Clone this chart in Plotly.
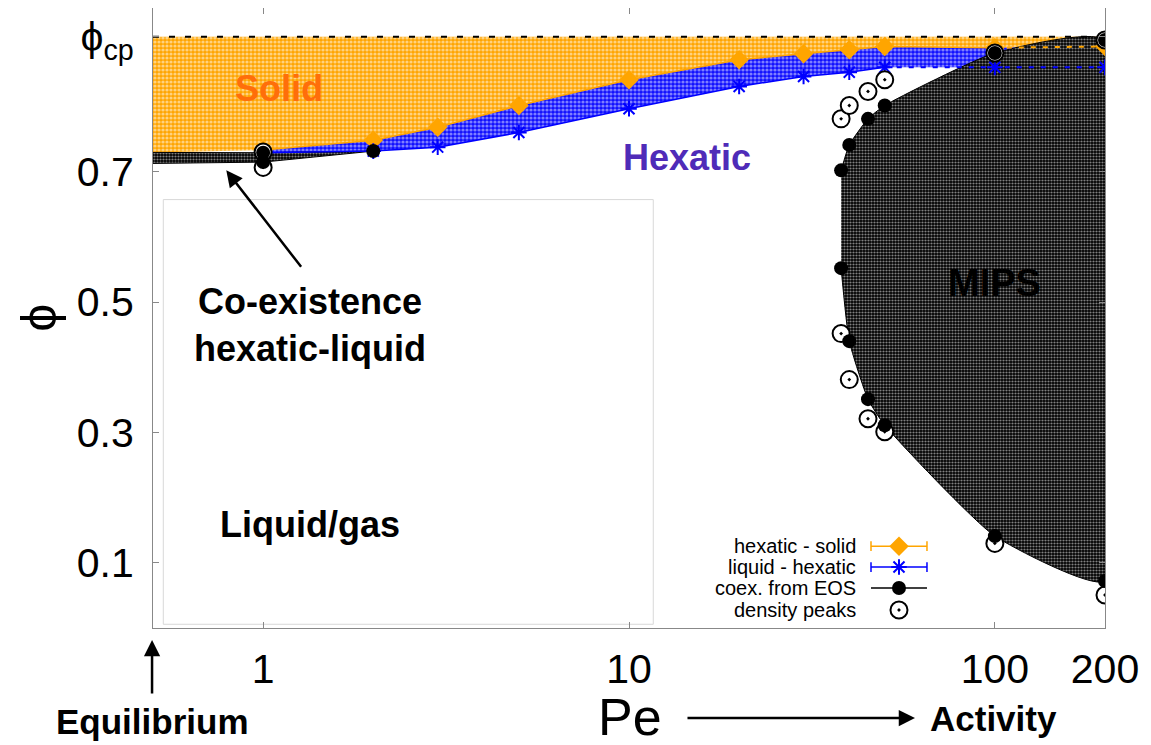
import math
import plotly.graph_objects as go

FONT = "Liberation Sans, Arial, Helvetica, sans-serif"

# ---------------- data ----------------
PHI_CP = 0.907          # close packing fraction
PE_EQ = 0.5             # left edge of the axis (equilibrium)
PE_MAX = 200

# hexatic - solid boundary
pe_hs = [1, 2, 3, 5, 10, 20, 30, 40, 50, 100, 200]
phi_hs = [0.733, 0.748, 0.768, 0.8015, 0.841, 0.8716, 0.881, 0.887, 0.892, 0.890, 0.892]
phi_hs_eq = 0.7295

# liquid - hexatic boundary
pe_lh = [1, 2, 3, 5, 10, 20, 30, 40, 50, 100, 200]
phi_lh = [0.729, 0.7315, 0.7376, 0.760, 0.7965, 0.8307, 0.846, 0.8526, 0.860, 0.860, 0.860]

# co-existence hexatic-liquid at low activity (from EOS)
pe_coex_low = [1, 2, 1]
phi_coex_low = [0.729, 0.7315, 0.7146]
phi_coex_eq = [0.7295, 0.7126]   # upper, lower at equilibrium

# MIPS binodal (from EOS)
pe_mips = [38, 40, 45, 50, 100, 200]
phi_mips_dense = [0.702, 0.741, 0.781, 0.8015, 0.882, 0.902]
phi_mips_dilute = [0.552, 0.440, 0.351, 0.311, 0.141, 0.072]

# density peaks
pe_peaks = [1, 38, 40, 45, 50, 100, 200]
phi_peaks_high = [0.730, 0.781, 0.8015, 0.823, 0.841, 0.882, 0.902]
phi_peaks_low = [0.7065, 0.4516, 0.381, 0.321, 0.301, 0.1298, 0.0506]

x_ticks = [1, 10, 100, 200]
y_ticks = [0.1, 0.3, 0.5, 0.7, PHI_CP]
y_ticktext = ["0.1", "0.3", "0.5", "0.7", "ϕ<sub>cp</sub>"]

legend_names = ["hexatic - solid", "liquid - hexatic", "coex. from EOS", "density peaks"]

ORANGE = "#FFA500"
BLUE = "#0000FF"

# ---------------- figure ----------------
fig = go.Figure()

# Solid region (between close packing and hexatic-solid line)
sx = [PE_EQ, PE_MAX] + pe_hs[::-1] + [PE_EQ]
sy = [PHI_CP, PHI_CP] + phi_hs[::-1] + [phi_hs_eq]
fig.add_trace(go.Scatter(x=sx, y=sy, mode="lines", fill="toself",
                         line=dict(width=0, color=ORANGE), fillcolor=ORANGE,
                         fillpattern=dict(shape=".", bgcolor=ORANGE, fgcolor="white",
                                          size=4, solidity=0.5),
                         showlegend=False, hoverinfo="skip"))

# Hexatic band (between the two lines)
hx = pe_hs + pe_lh[::-1]
hy = phi_hs + phi_lh[::-1]
fig.add_trace(go.Scatter(x=hx, y=hy, mode="lines", fill="toself",
                         line=dict(width=0, color=BLUE), fillcolor=BLUE,
                         fillpattern=dict(shape=".", bgcolor="#1010FF", fgcolor="#EEEEFF",
                                          size=4, solidity=0.5),
                         showlegend=False, hoverinfo="skip"))

# low-activity co-existence band
bx = [PE_EQ] + pe_coex_low + [PE_EQ]
by = [phi_coex_eq[0]] + phi_coex_low + [phi_coex_eq[1]]
fig.add_trace(go.Scatter(x=bx, y=by, mode="lines", fill="toself",
                         line=dict(width=1, color="black"), fillcolor="black",
                         fillpattern=dict(shape=".", bgcolor="black", fgcolor="white",
                                          size=3, solidity=0.42),
                         showlegend=False, hoverinfo="skip"))

# MIPS region
mx = pe_mips + pe_mips[::-1]
my = phi_mips_dense + phi_mips_dilute[::-1]
fig.add_trace(go.Scatter(x=mx, y=my, mode="lines", fill="toself",
                         line=dict(width=1, color="black", shape="spline", smoothing=0.5),
                         fillcolor="black",
                         fillpattern=dict(shape=".", bgcolor="black", fgcolor="white",
                                          size=3, solidity=0.42),
                         showlegend=False, hoverinfo="skip"))

# boundary lines: solid where measured inside the band, dashed beyond
fig.add_trace(go.Scatter(x=pe_hs[:-1], y=phi_hs[:-1], mode="lines",
                         line=dict(width=1.5, color=ORANGE),
                         showlegend=False, hoverinfo="skip"))
fig.add_trace(go.Scatter(x=pe_hs[-2:], y=phi_hs[-2:], mode="lines",
                         line=dict(width=2, color=ORANGE, dash="5px,7px"),
                         showlegend=False, hoverinfo="skip"))
fig.add_trace(go.Scatter(x=pe_lh[:-2], y=phi_lh[:-2], mode="lines",
                         line=dict(width=1.5, color=BLUE),
                         showlegend=False, hoverinfo="skip"))
fig.add_trace(go.Scatter(x=pe_lh[-3:], y=phi_lh[-3:], mode="lines",
                         line=dict(width=2, color=BLUE, dash="5px,7px"),
                         showlegend=False, hoverinfo="skip"))

# close packing line
fig.add_trace(go.Scatter(x=[PE_EQ, PE_MAX], y=[PHI_CP, PHI_CP], mode="lines",
                         line=dict(width=2, color="black", dash="6px,10px"),
                         showlegend=False, hoverinfo="skip"))

# hexatic - solid markers
fig.add_trace(go.Scatter(x=pe_hs, y=phi_hs, mode="markers", name=legend_names[0],
                         marker=dict(symbol="diamond", size=15, color=ORANGE),
                         showlegend=False))

# liquid - hexatic markers
fig.add_trace(go.Scatter(x=pe_lh, y=phi_lh, mode="markers", name=legend_names[1],
                         marker=dict(symbol="asterisk-open", size=13,
                                     line=dict(width=2, color=BLUE), color=BLUE),
                         showlegend=False))

# density peaks
fig.add_trace(go.Scatter(x=pe_peaks + pe_peaks, y=phi_peaks_high + phi_peaks_low,
                         mode="markers", name=legend_names[3],
                         marker=dict(symbol="circle-dot", size=17, color="white",
                                     line=dict(width=2, color="black")),
                         showlegend=False))

# coexistence from EOS
ex = pe_mips + [None] + pe_mips + [None] + pe_coex_low
ey = phi_mips_dense + [None] + phi_mips_dilute + [None] + phi_coex_low
fig.add_trace(go.Scatter(x=ex, y=ey, mode="markers", name=legend_names[2],
                         marker=dict(symbol="circle", size=14, color="black"),
                         showlegend=False))

# ---------------- gnuplot-style key (text on the left, sample on the right) ----------------
KEY_TEXT_X = 0.7405          # paper x of right edge of key text
KEY_X0, KEY_XM, KEY_X1 = 0.7542, 0.7836, 0.813
KEY_ROWS = [0.132, 0.0983, 0.0645, 0.029]
key_styles = [
    dict(color=ORANGE, symbol="diamond", size=15, lw=1.5, caps=True, line=True, mline=None, mcolor=ORANGE),
    dict(color=BLUE, symbol="asterisk-open", size=13, lw=1.5, caps=True, line=True, mline=2, mcolor=BLUE),
    dict(color="black", symbol="circle", size=14, lw=1.5, caps=False, line=True, mline=None, mcolor="black"),
    dict(color="black", symbol="circle-dot", size=17, lw=0, caps=False, line=False, mline=2, mcolor="white"),
]
for name, ky, st in zip(legend_names, KEY_ROWS, key_styles):
    if st["line"]:
        fig.add_trace(go.Scatter(x=[KEY_X0, KEY_X1], y=[ky, ky], xaxis="x2", yaxis="y2",
                                 mode="lines", line=dict(color=st["color"], width=st["lw"]),
                                 showlegend=False, hoverinfo="skip"))
    if st["caps"]:
        fig.add_trace(go.Scatter(x=[KEY_X0, KEY_X1], y=[ky, ky], xaxis="x2", yaxis="y2",
                                 mode="markers",
                                 marker=dict(symbol="line-ns-open", size=7, color=st["color"],
                                             line=dict(color=st["color"], width=1.5)),
                                 showlegend=False, hoverinfo="skip"))
    mk = dict(symbol=st["symbol"], size=st["size"], color=st["mcolor"])
    if st["mline"]:
        mk["line"] = dict(width=st["mline"], color=st["color"])
    fig.add_trace(go.Scatter(x=[KEY_XM], y=[ky], xaxis="x2", yaxis="y2", mode="markers",
                             marker=mk, showlegend=False, hoverinfo="skip"))
    fig.add_annotation(xref="paper", yref="paper", x=KEY_TEXT_X, y=ky, text=name,
                       xanchor="right", yanchor="middle", showarrow=False,
                       font=dict(family=FONT, size=20, color="black"))

# ---------------- layout ----------------
# the page body has an 8px margin; the figure is sized so the plot frame sits where the
# reference has it
W, H = 1143, 737
ML, MR, MT, MB = 145, 46, 0, 117

fig.update_layout(
    width=W, height=H,
    margin=dict(l=ML, r=MR, t=MT, b=MB),
    paper_bgcolor="white", plot_bgcolor="white",
    font=dict(family=FONT, color="black"),
    showlegend=False,
    xaxis=dict(type="log", range=[math.log10(PE_EQ), math.log10(PE_MAX)],
               tickvals=x_ticks, ticktext=[str(v) for v in x_ticks],
               tickfont=dict(size=41, family=FONT),
               ticks="inside", ticklen=6, tickcolor="#888",
               showline=True, linecolor="#888", linewidth=1, mirror="ticks",
               showgrid=False, zeroline=False, ticklabelstandoff=5),
    yaxis=dict(range=[0, 0.951], tickvals=y_ticks, ticktext=y_ticktext,
               tickfont=dict(size=41, family=FONT),
               ticks="inside", ticklen=6, tickcolor="#888",
               showline=True, linecolor="#888", linewidth=1, mirror="ticks",
               showgrid=False, zeroline=False, ticklabelstandoff=10),
    xaxis2=dict(overlaying="x", range=[0, 1], visible=False, fixedrange=True),
    yaxis2=dict(overlaying="y", range=[0, 1], visible=False, fixedrange=True),
)

# light grey box in the liquid region
fig.add_shape(type="rect", xref="paper", yref="paper",
              x0=0.0108, x1=0.5255, y0=0.006, y1=0.691,
              line=dict(color="#d8d8d8", width=1), fillcolor="rgba(0,0,0,0)", layer="below")

def label(x, y, text, size, color="black", xref="x", yref="y", angle=0):
    fig.add_annotation(x=x, y=y, xref=xref, yref=yref, text=text, showarrow=False,
                       xanchor="center", yanchor="middle", textangle=angle,
                       font=dict(family=FONT, size=size, color=color))

label(math.log10(1.105), 0.8276, "<b>Solid</b>", 36, "#FF6E0A")
label(math.log10(14.4), 0.7218, "<b>Hexatic</b>", 36, "#4F2BB8")
label(math.log10(100), 0.5287, "<b>MIPS</b>", 38)
label(math.log10(1.343), 0.4644, "<b>Co-existence<br>hexatic-liquid</b>", 36)
label(math.log10(1.343), 0.159, "<b>Liquid/gas</b>", 36)

# arrow pointing to co-existence band
fig.add_annotation(x=math.log10(0.793), y=0.702, ax=76, ay=98, text="", showarrow=True,
                   arrowhead=2, arrowsize=1.3, arrowwidth=2.5, arrowcolor="black")

# y title
label(-0.12, 0.5, "ϕ", 50, xref="paper", yref="paper", angle=-90)

# bottom texts and arrows
label(0.501, -0.1435, "Pe", 52, xref="paper", yref="paper")
label(-0.001, -0.1516, "<b>Equilibrium</b>", 35, xref="paper", yref="paper")
label(0.8824, -0.1452, "<b>Activity</b>", 35, xref="paper", yref="paper")
fig.add_annotation(xref="paper", yref="paper", x=-0.001, y=-0.0194, ax=0, ay=55, text="",
                   showarrow=True, arrowhead=2, arrowsize=1.3, arrowwidth=2.5, arrowcolor="black")
fig.add_annotation(xref="paper", yref="paper", x=0.8004, y=-0.1452, ax=-229, ay=0, text="",
                   showarrow=True, arrowhead=2, arrowsize=1.3, arrowwidth=2.5, arrowcolor="black")

fig.write_html("out.html")
